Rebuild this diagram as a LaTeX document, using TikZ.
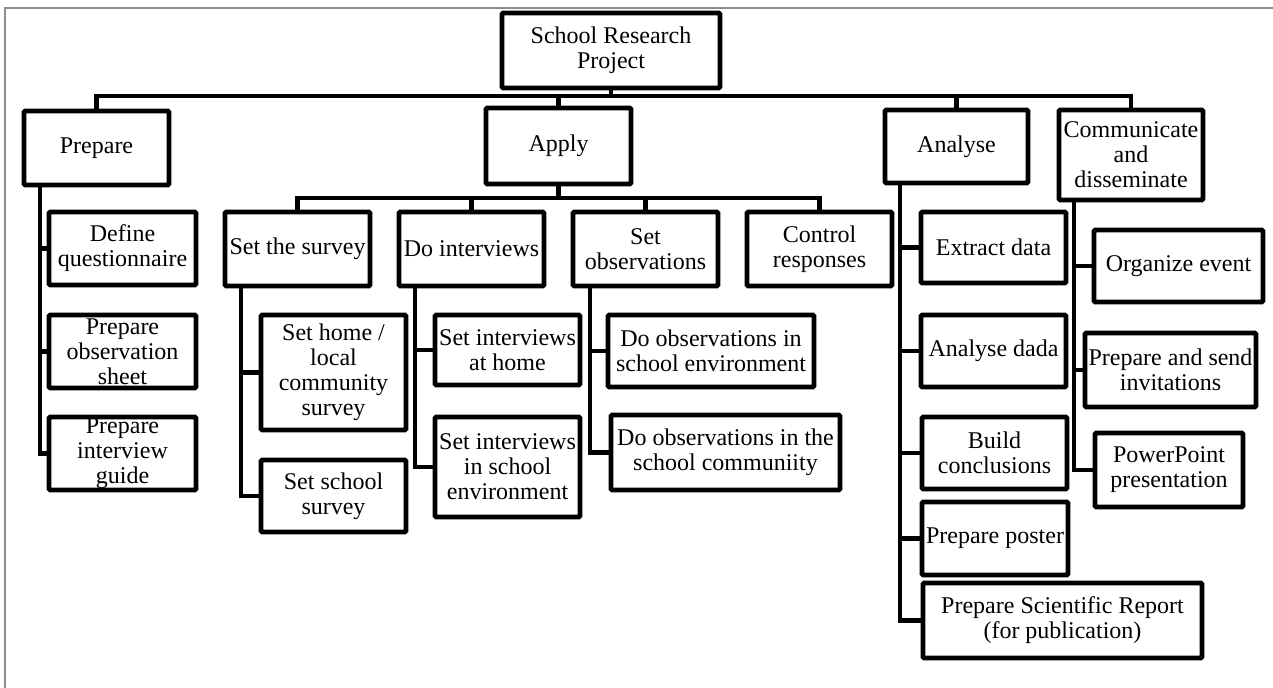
\documentclass[tikz,border=0pt]{standalone}
\usepackage{fontspec}
\setmainfont{Liberation Serif}
\begin{document}
\begin{tikzpicture}[x=0.75pt,y=-0.75pt,
  every node/.style={font=\fontsize{18}{18.75}\selectfont},
  bx/.style 2 args={draw=black, line width=3.6pt, rounded corners=1pt, fill=white,
    inner sep=0pt, align=center, minimum width=#1*0.75pt, minimum height=#2*0.75pt},
  ln/.style={draw=black, line width=3.6pt},
  frame/.style={draw=black!45, line width=1.2pt}]
\useasboundingbox[fill=white] (0,0) rectangle (1273,688);
\draw[frame] (5,688) -- (5,8) -- (1273,8);

% top level
\node[bx={218}{75}] (root) at (611,50.5) {School Research\\Project};
\node[bx={145}{74}] (prep) at (96.5,148) {Prepare};
\node[bx={145}{76}] (apply) at (558.5,146) {Apply};
\node[bx={143}{73}] (analyse) at (956.5,146.5) {Analyse};
\node[bx={144}{90}] (comm) at (1131,155) {Communicate\\and\\disseminate};

\coordinate (tb) at (0,96);
\draw[ln] (root.south) -- (root.south |- tb);
\draw[ln] (prep.north) -- (prep.north |- tb) -- (comm.north |- tb) -- (comm.north);
\draw[ln] (apply.north) -- (apply.north |- tb);
\draw[ln] (analyse.north) -- (analyse.north |- tb);

% apply level
\node[bx={145}{74}] (survey) at (297.5,249) {Set the survey};
\node[bx={145}{74}] (doint) at (471.5,249) {Do interviews};
\node[bx={145}{74}] (setobs) at (645.5,249) {Set\\observations};
\node[bx={145}{74}] (control) at (819.5,249) {Control\\responses};

\coordinate (ab) at (0,198);
\draw[ln] (apply.south) -- (apply.south |- ab);
\draw[ln] (survey.north) -- (survey.north |- ab) -- (control.north |- ab) -- (control.north);
\draw[ln] (doint.north) -- (doint.north |- ab);
\draw[ln] (setobs.north) -- (setobs.north |- ab);

% prepare children
\node[bx={147}{73}] (defq) at (122.5,248.5) {Define\\questionnaire};
\node[bx={147}{73}] (prepobs) at (122.5,351.5) {Prepare\\observation\\sheet};
\node[bx={147}{73}] (prepint) at (122.5,453.5) {Prepare\\interview\\guide};
\coordinate (pbx) at (40,0);
\draw[ln] (prep.south -| pbx) |- (prepint.west);
\draw[ln] (pbx |- defq.west) -- (defq.west);
\draw[ln] (pbx |- prepobs.west) -- (prepobs.west);

% survey children
\node[bx={145}{115}] (sethome) at (333.5,372.5) {Set home /\\local\\community\\survey};
\node[bx={145}{72}] (setschool) at (333.5,496) {Set school\\survey};
\coordinate (sbx) at (241,0);
\draw[ln] (survey.south -| sbx) |- (setschool.west);
\draw[ln] (sbx |- sethome.west) -- (sethome.west);

% interview children
\node[bx={145}{70}] (inthome) at (507.5,350) {Set interviews\\at home};
\node[bx={145}{100}] (intschool) at (507.5,467) {Set interviews\\in school\\environment};
\coordinate (ibx) at (415,0);
\draw[ln] (doint.south -| ibx) |- (intschool.west);
\draw[ln] (ibx |- inthome.west) -- (inthome.west);

% observation children
\node[bx={206}{72}] (obsenv) at (711,351) {Do observations in\\school environment};
\node[bx={229}{75}] (obscomm) at (725.5,452.5) {Do observations in the\\school communiity};
\coordinate (obx) at (590,0);
\draw[ln] (setobs.south -| obx) |- (obscomm.west);
\draw[ln] (obx |- obsenv.west) -- (obsenv.west);

% analyse children
\node[bx={145}{71}] (extract) at (993.5,247.5) {Extract data};
\node[bx={145}{72}] (anadada) at (993.5,351) {Analyse dada};
\node[bx={145}{72}] (build) at (994.5,453) {Build\\conclusions};
\node[bx={146}{73}] (poster) at (995,538.5) {Prepare poster};
\node[bx={279}{75}] (report) at (1062.5,620.5) {Prepare Scientific Report\\(for publication)};
\coordinate (nbx) at (900,0);
\draw[ln] (analyse.south -| nbx) |- (report.west);
\draw[ln] (nbx |- extract.west) -- (extract.west);
\draw[ln] (nbx |- anadada.west) -- (anadada.west);
\draw[ln] (nbx |- build.west) -- (build.west);
\draw[ln] (nbx |- poster.west) -- (poster.west);

% communicate children
\node[bx={169}{72}] (org) at (1178.5,266) {Organize event};
\node[bx={171}{74}] (invit) at (1170.5,370) {Prepare and send\\invitations};
\node[bx={148}{74}] (ppt) at (1169,470) {PowerPoint\\presentation};
\coordinate (cbx) at (1074,0);
\draw[ln] (comm.south -| cbx) |- (ppt.west);
\draw[ln] (cbx |- org.west) -- (org.west);
\draw[ln] (cbx |- invit.west) -- (invit.west);
\end{tikzpicture}
\end{document}
